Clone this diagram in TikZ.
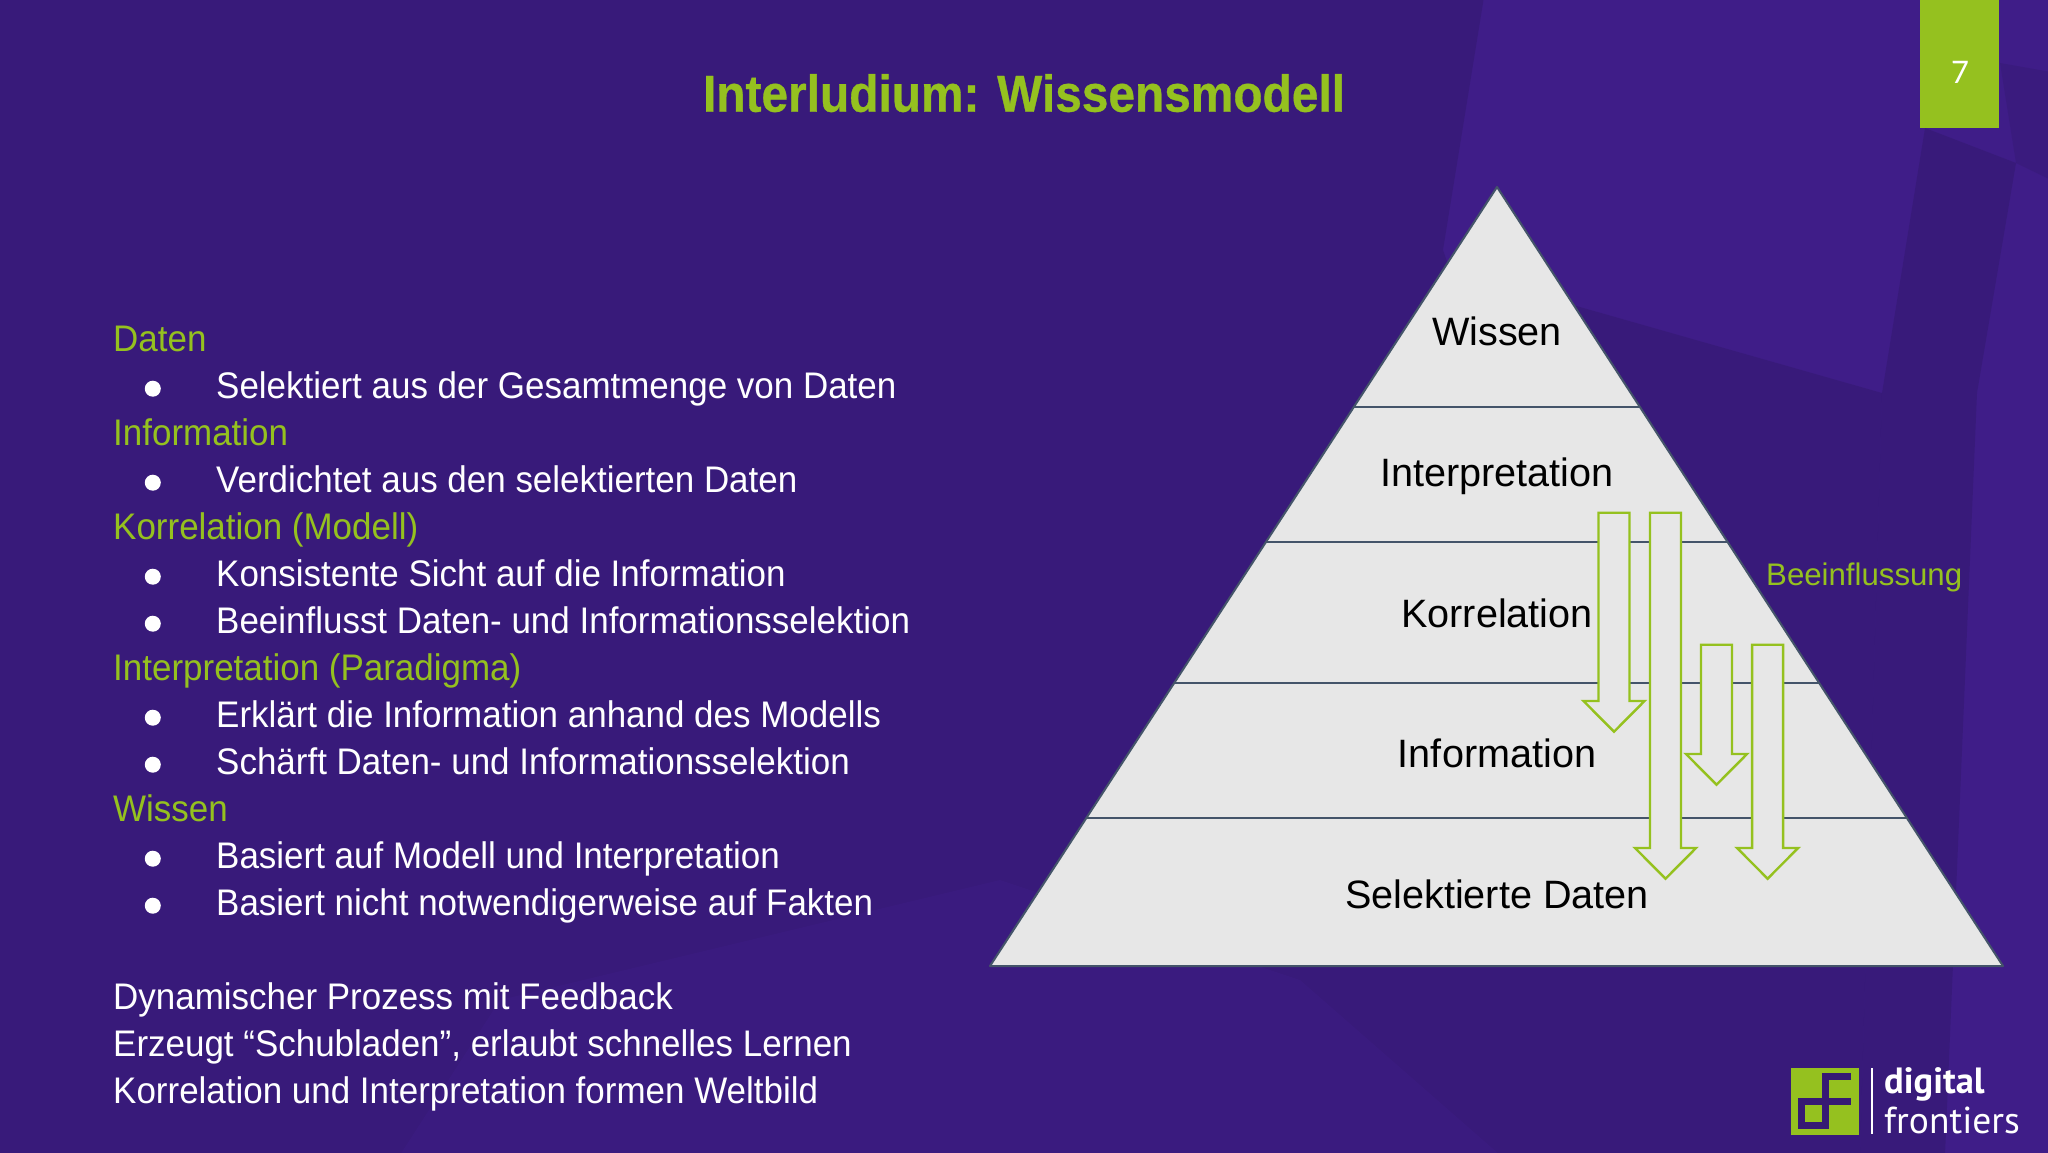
\documentclass[tikz,border=0pt]{standalone}
\usepackage{fontspec}
\usetikzlibrary{calc,positioning}
\setmainfont{Liberation Sans}
\newfontfamily\bodyfont[FakeStretch=0.945]{Liberation Sans}
\newfontfamily\titlefont[FakeStretch=0.92,BoldFeatures={FakeBold=0.6}]{Liberation Sans}
\newfontfamily\logofont{PT Sans}
\newfontfamily\numfont{Lato}
\definecolor{dfpurple}{HTML}{3F1D88}
\definecolor{dfdark}{HTML}{2F1868}
\definecolor{dfgreen}{HTML}{95C11F}
\definecolor{pyrfill}{HTML}{E7E7E7}
\definecolor{pyrline}{HTML}{44546A}
\tikzset{
    shade part/.style = {
        fill = dfdark,
        opacity = 0.42,
    },
    row/.style = {
        anchor=base west,
        inner sep=0pt,
        text height=27pt,
        text depth=7pt,
        font=\bodyfont\fontsize{37}{40}\selectfont,
    },
    head/.style = {
        row,
        text = dfgreen,
    },
    plain/.style = {
        row,
        text = white,
    },
    bullet/.style = {
        circle,
        fill = white,
        inner sep=0pt,
        minimum size=16pt,
    },
    item/.style = {
        plain,
        label={[bullet, label distance=55pt]180:{}},
    },
    level/.style = {
        anchor=base,
        inner sep=0pt,
        text = black,
        font=\fontsize{39.6}{42}\selectfont,
    },
    level line/.style = {
        draw=pyrline,
        line width=2pt,
    },
    block arrow/.style = {
        draw=dfgreen,
        fill=pyrfill,
        line width=2.4pt,
        miter limit=10,
    },
    logo text/.style = {
        anchor=base west,
        inner sep=0pt,
        text = white,
    },
}
\begin{document}
\begin{tikzpicture}[x=1pt,y=-1pt]
    \useasboundingbox (0,0) rectangle (2048,1152);
    % background
    \fill[dfpurple] (-3,-3) rectangle (2051,1155);
    \fill[shade part] (-3,-3) -- (1484,-3) -- (1443,250) -- (1450,270) -- (1882,393) -- (1860,1155) -- (-3,1155) -- cycle;
    \fill[shade part] (1925,128) -- (2016,163) -- (1977,393) -- (1945,1155) -- (1860,1155) -- (1882,393) -- cycle;
    \fill[shade part, opacity=0.3] (2000,63) -- (2051,72) -- (2051,180) -- (2016,163) -- cycle;
    \fill[dfpurple, opacity=0.4] (500,1000) -- (1000,880) -- (1300,980) -- (1500,1155) -- (400,1155) -- cycle;

    % title and page number
    \node[inner sep=0pt, anchor=base, text=dfgreen, font=\titlefont\bfseries\fontsize{52}{56}\selectfont] (title) at (1024,111.7) {Interludium: Wissensmodell};
    \fill[dfgreen] (1920,-3) rectangle (1999,128);
    \node[inner sep=0pt, anchor=base, text=white, font=\numfont\fontsize{31}{34}\selectfont] (pagenum) at (1960,83) {7};

    % text on the left
    \node[head] (daten) at (113,351.7) {Daten};
    \node[item] (selekt) at (216,398.7) {Selektiert aus der Gesamtmenge von Daten};
    \node[head] (info) at (113,445.7) {Information};
    \node[item] (verdicht) at (216,492.7) {Verdichtet aus den selektierten Daten};
    \node[head] (korr) at (113,539.7) {Korrelation (Modell)};
    \node[item] (sicht) at (216,586.7) {Konsistente Sicht auf die Information};
    \node[item] (beeinf) at (216,633.7) {Beeinflusst Daten- und Informationsselektion};
    \node[head] (interp) at (113,680.7) {Interpretation (Paradigma)};
    \node[item] (erkl) at (216,727.7) {Erklärt die Information anhand des Modells};
    \node[item] (schaerf) at (216,774.7) {Schärft Daten- und Informationsselektion};
    \node[head] (wissen) at (113,821.7) {Wissen};
    \node[item] (modell) at (216,868.7) {Basiert auf Modell und Interpretation};
    \node[item] (fakten) at (216,915.7) {Basiert nicht notwendigerweise auf Fakten};
    \node[plain] (dyn) at (113,1009.7) {Dynamischer Prozess mit Feedback};
    \node[plain] (schub) at (113,1056.7) {Erzeugt “Schubladen”, erlaubt schnelles Lernen};
    \node[plain] (welt) at (113,1103.7) {Korrelation und Interpretation formen Weltbild};

    % pyramid
    \coordinate (apex) at (1497,187);
    \coordinate (baseL) at (990,966);
    \coordinate (baseR) at (2003,966);
    \draw[fill=pyrfill, level line, line join=round] (apex) -- (baseR) -- (baseL) -- cycle;
    \foreach \f in {0.2824,0.4561,0.6363,0.8104} {
        \draw[level line] ($(apex)!\f!(baseL)$) -- ($(apex)!\f!(baseR)$);
    }
    \node[level] (lvWissen) at (1497,345) {Wissen};
    \node[level] (lvInterp) at (1497,486) {Interpretation};
    \node[level] (lvKorr) at (1497,627) {Korrelation};
    \node[level] (lvInfo) at (1497,767) {Information};
    \node[level] (lvDaten) at (1497,908) {Selektierte Daten};

    % block arrows: centre/top/shoulder/tip
    \foreach \c/\t/\s/\e in {1614/512.7/701/731.7, 1665.5/512.7/848/878.7, 1716.5/644.7/754/784.7, 1767.6/644.7/848/878.7} {
        \draw[block arrow] (\c-15.5,\t) -- (\c+15.5,\t) -- (\c+15.5,\s) -- (\c+30.5,\s) -- (\c,\e) -- (\c-30.5,\s) -- (\c-15.5,\s) -- cycle;
    }
    \node[inner sep=0pt, anchor=base west, text=dfgreen, font=\fontsize{31.2}{34}\selectfont] (influence) at (1766,585) {Beeinflussung};

    % logo
    \fill[dfgreen] (1791.3,1067.7) rectangle (1858.7,1135);
    \draw[dfpurple!85!black, line width=7pt] (1851,1076.7) -- (1825.3,1076.7) -- (1825.3,1125.7) -- (1801.7,1125.7) -- (1801.7,1101.7) -- (1851,1101.7);
    \draw[white, line width=2pt] (1872.3,1068) -- (1872.3,1134);
    \node[logo text, font=\logofont\bfseries\fontsize{36.5}{39}\selectfont] (digital) at (1884,1093) {digital};
    \node[logo text, font=\logofont\fontsize{37.5}{40}\selectfont] (frontiers) at (1884,1133) {frontiers};
\end{tikzpicture}
\end{document}
